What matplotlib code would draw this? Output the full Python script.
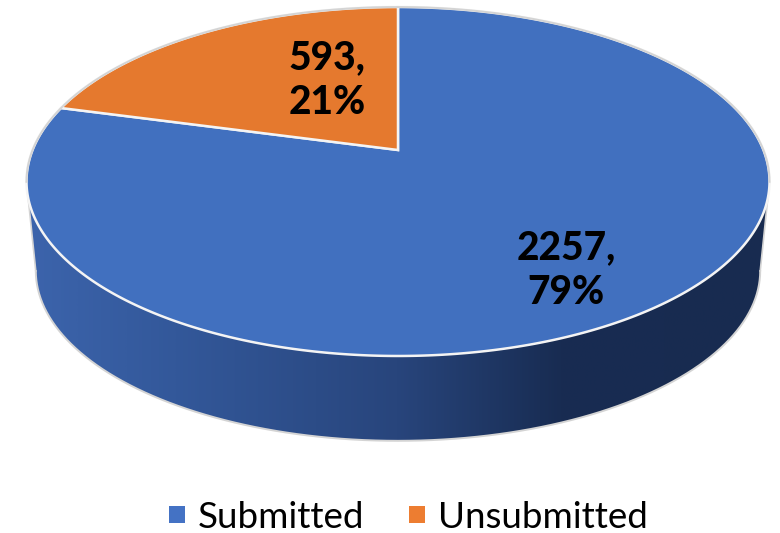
import numpy as np
import matplotlib
matplotlib.use("Agg")
import matplotlib.pyplot as plt
from matplotlib.colors import LinearSegmentedColormap
from matplotlib.patches import Patch, Polygon

categories = ["Submitted", "Unsubmitted"]
values = [2257, 593]
percents = [79, 21]

pie_colors = ["#4170BF", "#E5792E"]
legend_colors = ["#4472C4", "#ED7D31"]

fig = plt.figure(figsize=(7.8, 5.33), dpi=100)
ax = fig.add_axes([0, 0, 1, 1])
ax.set_xlim(0, 780)
ax.set_ylim(533, 0)
ax.axis("off")

# Perspective projection of a unit disc (u to the right, v towards the viewer)
CX, CY, A, B, K = 398.0, 150.0, 365.4, 168.8, -0.1805


def project(theta, r=1.0, scale=1.0, dy=0.0):
    """theta is measured counter-clockwise from 12 o'clock."""
    u = -np.sin(theta) * r
    v = -np.cos(theta) * r
    d = 1 + K * v
    return CX + scale * A * u / d, CY + dy + scale * B * v / d


# Side wall: region between the front rims of the top and bottom discs
full = np.linspace(0, 2 * np.pi, 721)
tx, ty = project(full)
bx, by = project(full, scale=0.975, dy=90)
il, ir = np.argmin(tx), np.argmax(tx)
bl, br = np.argmin(bx), np.argmax(bx)
top_front = np.column_stack([tx[il:ir + 1], ty[il:ir + 1]])
bot_front = np.column_stack([bx[bl:br + 1], by[bl:br + 1]])[::-1]
wall = Polygon(np.vstack([top_front, bot_front]), closed=True,
               facecolor="none", edgecolor="none")
ax.add_patch(wall)

cmap = LinearSegmentedColormap.from_list(
    "wall",
    [(0.0, "#3C64AC"), (0.2, "#33589A"), (0.5, "#28457C"),
     (0.72, "#182C52"), (1.0, "#182B50")],
)
grad = np.linspace(0, 1, 512)[None, :]
im = ax.imshow(grad, extent=(26, 769, 450, 150), cmap=cmap, aspect="auto",
               interpolation="bilinear", zorder=1)
im.set_clip_path(wall)
ax.set_xlim(0, 780)
ax.set_ylim(533, 0)
rim = "#D4D4D4"
ax.plot(bot_front[:, 0], bot_front[:, 1], color=rim, lw=1.4, zorder=2)
ax.plot([tx[il], bx[bl]], [ty[il], by[bl]], color=rim, lw=1.2, zorder=2)
ax.plot([tx[ir], bx[br]], [ty[ir], by[br]], color=rim, lw=1.2, zorder=2)

# Top face: slices from the values, Unsubmitted counter-clockwise from 12 o'clock
total = sum(values)
sweep_unsub = 2 * np.pi * values[1] / total
unsub = np.linspace(0, sweep_unsub, 200)
sub = np.linspace(sweep_unsub, 2 * np.pi, 600)
for theta, colour in ((sub, pie_colors[0]), (unsub, pie_colors[1])):
    x, y = project(theta)
    ax.fill(np.r_[CX, x], np.r_[CY, y], facecolor=colour, edgecolor="#F4F4F4",
            lw=1.8, joinstyle="miter", zorder=3)

# The rim of the top face reads grey along the back and the far sides
back_x = np.r_[tx[ir:], tx[:il + 1]]
back_y = np.r_[ty[ir:], ty[:il + 1]]
ax.plot(back_x, back_y, color=rim, lw=1.4, zorder=3.5)

font = ["Lato", "DejaVu Sans"]
ax.text(327, 80, f"{values[1]},\n{percents[1]}%", ha="center", va="center",
        fontsize=28, fontweight="black", family=font, color="black",
        linespacing=1.27, zorder=4)
ax.text(566, 270, f"{values[0]},\n{percents[0]}%", ha="center", va="center",
        fontsize=28, fontweight="black", family=font, color="black",
        linespacing=1.27, zorder=4)

handles = [Patch(facecolor=c, edgecolor="none") for c in legend_colors]
ax.legend(handles, categories, loc="center", bbox_to_anchor=(408.5 / 780, 1 - 517 / 533),
          ncol=2, frameon=False, handlelength=0.434, handleheight=0.34,
          handletextpad=0.354, columnspacing=1.22,
          prop={"family": "Lato", "size": 26.5})

fig.savefig("out.png", dpi=100)
